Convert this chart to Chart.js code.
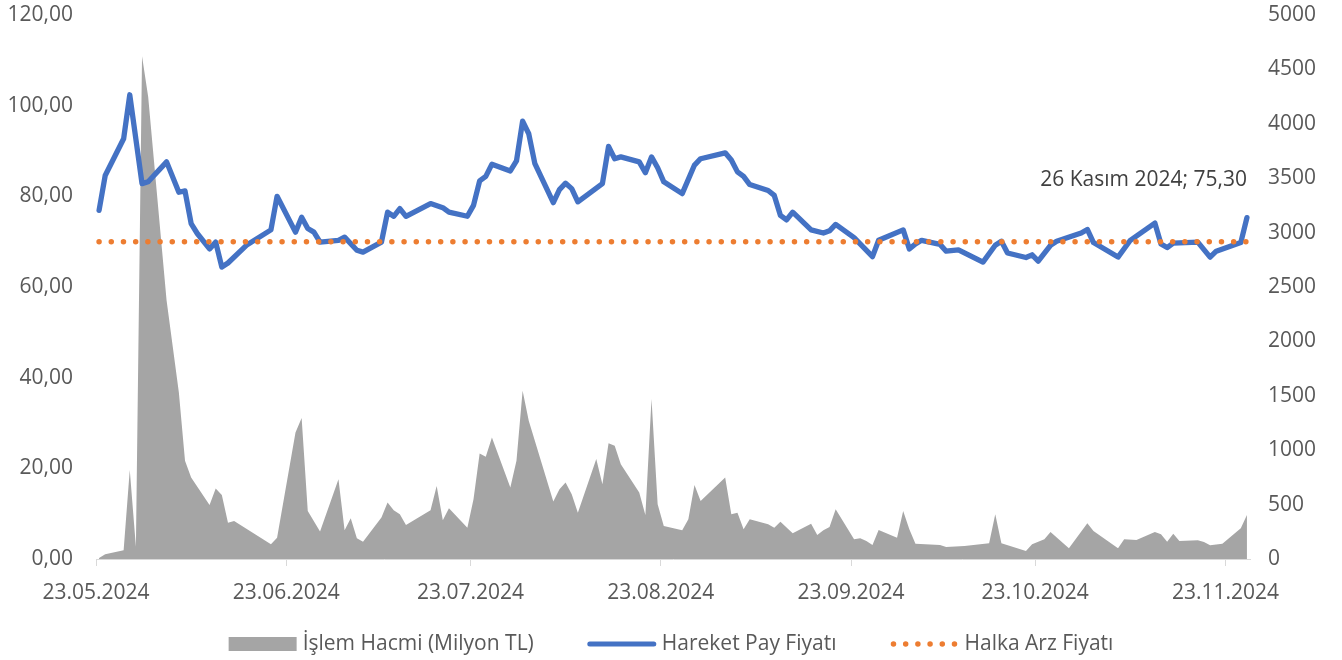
<!DOCTYPE html>
<html>
<head>
<meta charset="utf-8">
<script src="https://cdn.jsdelivr.net/npm/chart.js@4.4.1/dist/chart.umd.min.js"></script>
<style>
  html, body { margin: 0; padding: 0; background: #ffffff; }
  #wrap { width: 1342px; height: 660px; position: relative; }
  canvas { display: block; }
</style>
</head>
<body>
<div id="wrap"><canvas id="c" width="1342" height="660"></canvas></div>
<script>
// ---------------- DATA ----------------
const YEAR = 2024;
const seriesNames = ['İşlem Hacmi (Milyon TL)', 'Hareket Pay Fiyatı', 'Halka Arz Fiyatı'];
const monthNamesTR = ['Ocak','Şubat','Mart','Nisan','Mayıs','Haziran','Temmuz','Ağustos','Eylül','Ekim','Kasım','Aralık'];

const xTickLabels = ['23.05.2024','23.06.2024','23.07.2024','23.08.2024','23.09.2024','23.10.2024','23.11.2024'];
const axisEndDate = '27.11.2024';

const leftTicks = [0, 20, 40, 60, 80, 100, 120];
const rightTicks = [0, 500, 1000, 1500, 2000, 2500, 3000, 3500, 4000, 4500, 5000];

// Hareket pay fiyatı (TL)
const priceDates = ['23.05','24.05','27.05','28.05','30.05','31.05','03.06','05.06','06.06','07.06',
  '08.06','10.06','11.06','12.06','13.06','16.06','20.06','21.06','24.06','25.06',
  '26.06','27.06','28.06','01.07','02.07','04.07','05.07','08.07','09.07','10.07',
  '11.07','12.07','16.07','18.07','19.07','22.07','23.07','24.07','25.07','26.07',
  '29.07','30.07','31.07','01.08','02.08','05.08','06.08','07.08','08.08','09.08',
  '13.08','14.08','15.08','16.08','19.08','20.08','21.08','22.08','23.08','26.08',
  '28.08','29.08','02.09','03.09','04.09','05.09','06.09','09.09','10.09','11.09',
  '12.09','13.09','16.09','18.09','19.09','20.09','23.09','26.09','27.09','01.10',
  '02.10','03.10','04.10','07.10','08.10','10.10','14.10','16.10','17.10','18.10',
  '21.10','22.10','23.10','25.10','26.10','30.10','31.10','01.11','05.11','07.11',
  '11.11','12.11','13.11','14.11','18.11','20.11','21.11','25.11','26.11'];
const price = [76.9,84.6,92.7,102.4,82.8,83.2,87.6,80.9,81.2,74.0,
  71.8,68.4,69.9,64.4,65.3,69.2,72.6,80.0,72.1,75.4,
  72.9,72.1,69.9,70.3,71.0,68.1,67.7,69.9,76.5,75.6,
  77.3,75.6,78.4,77.5,76.5,75.6,78.0,83.4,84.4,87.1,
  85.6,87.8,96.6,93.8,87.2,78.6,81.5,82.9,81.7,78.8,
  82.8,91.0,88.3,88.7,87.6,85.2,88.7,86.3,83.2,80.6,
  86.9,88.3,89.6,88.0,85.4,84.4,82.6,81.3,80.2,75.8,
  74.8,76.5,72.6,71.9,72.4,73.8,70.9,66.7,70.3,72.6,
  68.4,69.5,70.3,69.4,67.9,68.2,65.5,69.2,70.1,67.5,
  66.5,67.1,65.7,69.2,70.1,71.9,72.7,69.8,66.6,70.3,
  74.1,69.5,68.7,69.7,69.9,66.6,67.9,69.8,75.3];

// İşlem hacmi (Milyon TL)
const volumeDates = ['23.05','24.05','27.05','28.05','29.05','30.05','31.05','03.06','05.06','06.06',
  '07.06','10.06','11.06','12.06','13.06','14.06','20.06','21.06','24.06','25.06',
  '26.06','28.06','01.07','02.07','03.07','04.07','05.07','08.07','09.07','10.07',
  '11.07','12.07','16.07','17.07','18.07','19.07','22.07','23.07','24.07','25.07',
  '26.07','29.07','30.07','31.07','01.08','05.08','06.08','07.08','08.08','09.08',
  '12.08','13.08','14.08','15.08','16.08','19.08','20.08','21.08','22.08','23.08',
  '26.08','27.08','28.08','29.08','02.09','03.09','04.09','05.09','06.09','09.09',
  '10.09','11.09','13.09','16.09','17.09','18.09','19.09','20.09','23.09','24.09',
  '25.09','26.09','27.09','30.09','01.10','02.10','03.10','07.10','08.10','11.10',
  '15.10','16.10','17.10','21.10','22.10','23.10','24.10','25.10','28.10','31.10',
  '01.11','05.11','06.11','08.11','11.11','12.11','13.11','14.11','15.11','18.11',
  '19.11','20.11','22.11','25.11','26.11'];
const volume = [10,43,80,817,113,4622,4248,2376,1530,902,
  749,497,647,589,334,350,135,196,1163,1295,
  442,252,734,264,375,191,159,381,519,448,
  411,313,448,672,356,467,288,550,970,939,
  1117,657,902,1547,1271,528,642,703,596,426,
  918,688,1065,1040,872,611,405,1471,504,304,
  264,365,681,534,749,411,426,273,365,319,
  288,343,237,325,221,264,295,458,181,191,
  166,129,267,196,442,273,141,129,110,120,
  145,411,145,74,135,159,181,249,99,329,
  258,99,181,175,249,227,159,233,166,172,
  157,126,141,283,405];

// Halka arz fiyatı (TL)
const ipoDates = ['23.05','26.11'];
const ipoPrice = [70, 70];

// ---------------- HELPERS ----------------
const ORIGIN = Date.UTC(2024, 4, 23);
function parseDate(s) {
  const p = s.split('.').map(Number);
  const y = p.length > 2 ? p[2] : YEAR;
  return { d: p[0], m: p[1], y: y, day: (Date.UTC(y, p[1] - 1, p[0]) - ORIGIN) / 86400000 };
}
// date axis, data centred in each day slot
function toPoints(dates, vals) {
  return dates.map((s, i) => ({ x: parseDate(s).day + 0.5, y: vals[i] }));
}
const fmtTR = v => v.toFixed(2).replace('.', ',');

const FONT = '"Open Sans", "DejaVu Sans", sans-serif';
const TXT = '#595959';
const BLUE = '#4472C4', ORANGE = '#ED7D31', GRAY = '#A5A5A5';

// ---------------- PLUGINS ----------------
const lastLabelPlugin = {
  id: 'lastLabel',
  afterDatasetsDraw(chart) {
    const meta = chart.getDatasetMeta(1);
    const pt = meta.data[meta.data.length - 1];
    const dt = parseDate(priceDates[priceDates.length - 1]);
    const txt = dt.d + ' ' + monthNamesTR[dt.m - 1] + ' ' + dt.y + '; ' + fmtTR(price[price.length - 1]);
    const ctx = chart.ctx;
    ctx.save();
    ctx.font = '21px ' + FONT;
    ctx.fillStyle = '#404040';
    ctx.textAlign = 'right';
    ctx.textBaseline = 'middle';
    ctx.fillText(txt, pt.x, pt.y - 38);
    ctx.restore();
  }
};

const legendPlugin = {
  id: 'customLegend',
  afterDraw(chart) {
    const ctx = chart.ctx;
    ctx.save();
    ctx.font = '21px ' + FONT;
    const keyW = 68, gapKT = 6, gapItems = 54;
    const widths = seriesNames.map(n => keyW + gapKT + ctx.measureText(n).width);
    const total = widths.reduce((a, b) => a + b, 0) + gapItems * (seriesNames.length - 1);
    let x = chart.width / 2 - total / 2;
    const y = 644;
    seriesNames.forEach((name, i) => {
      if (i === 0) {
        ctx.fillStyle = GRAY;
        ctx.fillRect(x, y - 7, keyW, 14);
      } else if (i === 1) {
        ctx.strokeStyle = BLUE; ctx.lineWidth = 5; ctx.lineCap = 'round'; ctx.setLineDash([]);
        ctx.beginPath(); ctx.moveTo(x + 2, y); ctx.lineTo(x + keyW - 2, y); ctx.stroke();
      } else {
        ctx.strokeStyle = ORANGE; ctx.lineWidth = 5.5; ctx.lineCap = 'round'; ctx.setLineDash([0, 12.2]);
        ctx.beginPath(); ctx.moveTo(x + 3, y); ctx.lineTo(x + keyW, y); ctx.stroke();
        ctx.setLineDash([]);
      }
      ctx.fillStyle = TXT;
      ctx.textAlign = 'left';
      ctx.textBaseline = 'middle';
      ctx.fillText(name, x + keyW + gapKT, y);
      x += widths[i] + gapItems;
    });
    ctx.restore();
  }
};

// ---------------- CHART ----------------
const tickDays = xTickLabels.map(t => parseDate(t).day);
const noPad = s => { s.paddingTop = 0; s.paddingBottom = 0; };

new Chart(document.getElementById('c'), {
  type: 'line',
  data: {
    datasets: [
      {
        label: seriesNames[2],
        data: toPoints(ipoDates, ipoPrice),
        yAxisID: 'y',
        borderColor: ORANGE,
        borderWidth: 5.5,
        borderDash: [0, 12.2],
        borderCapStyle: 'round',
        pointRadius: 0,
        fill: false
      },
      {
        label: seriesNames[1],
        data: toPoints(priceDates, price),
        yAxisID: 'y',
        borderColor: BLUE,
        borderWidth: 5.3,
        borderJoinStyle: 'round',
        borderCapStyle: 'round',
        pointRadius: 0,
        tension: 0,
        fill: false
      },
      {
        label: seriesNames[0],
        data: toPoints(volumeDates, volume),
        yAxisID: 'y1',
        backgroundColor: GRAY,
        borderWidth: 0,
        borderColor: GRAY,
        pointRadius: 0,
        tension: 0,
        fill: 'origin'
      }
    ]
  },
  options: {
    responsive: false,
    animation: false,
    devicePixelRatio: 1,
    layout: { padding: { top: 15, bottom: 51, left: 0, right: 0 } },
    plugins: {
      legend: { display: false },
      tooltip: { enabled: false }
    },
    scales: {
      x: {
        type: 'linear',
        min: 0,
        max: parseDate(axisEndDate).day,
        afterBuildTicks: s => { s.ticks = tickDays.map(v => ({ value: v })); },
        afterFit: s => { s.height = 50; s.paddingLeft = 0; s.paddingRight = 0; },
        ticks: {
          autoSkip: false,
          maxRotation: 0,
          font: { family: FONT, size: 21 },
          color: TXT,
          padding: 14,
          callback: (v, i) => xTickLabels[i]
        },
        grid: { display: true, drawOnChartArea: false, drawTicks: true, tickLength: 7, color: '#D9D9D9', lineWidth: 1 },
        border: { display: true, color: '#D9D9D9', width: 1 }
      },
      y: {
        position: 'left',
        min: 0, max: 120,
        afterBuildTicks: s => { s.ticks = leftTicks.map(v => ({ value: v })); },
        afterFit: s => { s.width = 96; noPad(s); },
        ticks: {
          font: { family: FONT, size: 21 },
          color: TXT,
          padding: 23,
          callback: v => fmtTR(v)
        },
        grid: { display: false, drawTicks: false },
        border: { display: false }
      },
      y1: {
        position: 'right',
        min: 0, max: 5000,
        afterBuildTicks: s => { s.ticks = rightTicks.map(v => ({ value: v })); },
        afterFit: s => { s.width = 92; noPad(s); },
        ticks: {
          font: { family: FONT, size: 21 },
          color: TXT,
          padding: 18,
          callback: v => String(v)
        },
        grid: { display: false, drawTicks: false },
        border: { display: false }
      }
    }
  },
  plugins: [lastLabelPlugin, legendPlugin]
});
</script>
</body>
</html>
